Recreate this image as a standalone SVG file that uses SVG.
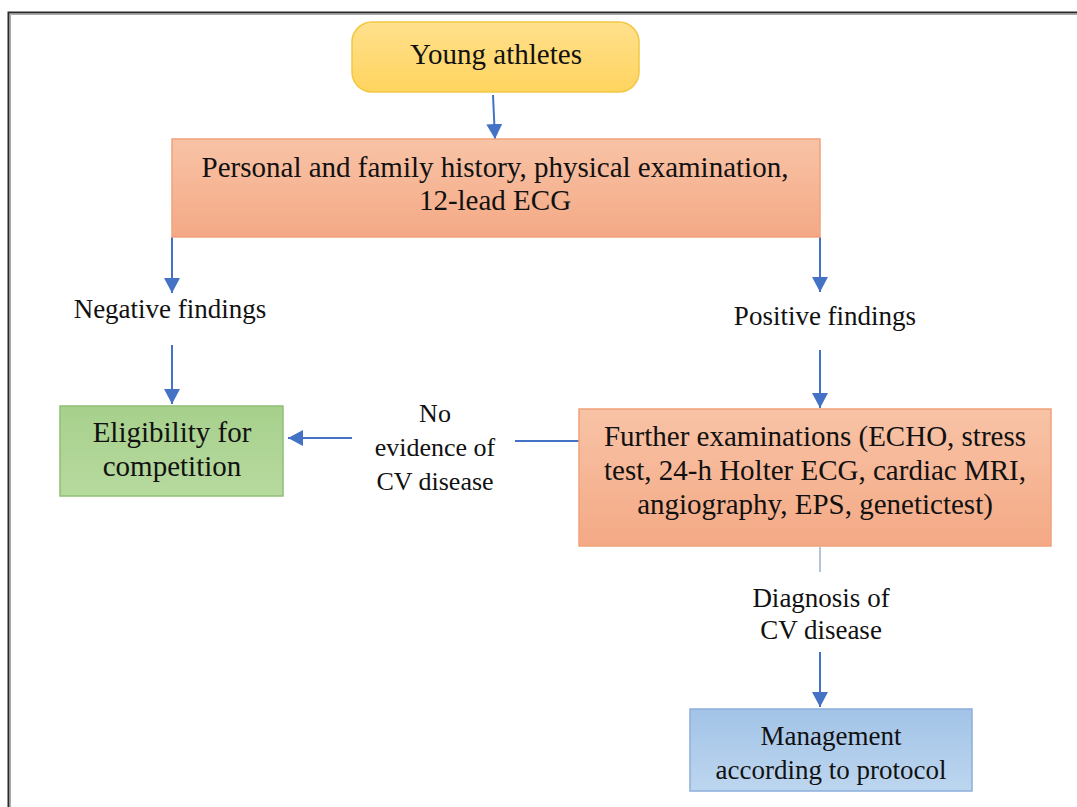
<svg xmlns="http://www.w3.org/2000/svg" width="1077" height="807" viewBox="0 0 1077 807">
<style>
.t{font-family:"Liberation Serif","Times New Roman",serif;fill:#111;text-anchor:middle}
.s29{font-size:29px}
.s27{font-size:27px}
.s26{font-size:26px}
.ln{stroke:#4472C4;stroke-width:2;fill:none}
</style>
<defs>
<linearGradient id="gY" x1="0" y1="0" x2="0" y2="1"><stop offset="0" stop-color="#FFE08C"/><stop offset="1" stop-color="#FFD45F"/></linearGradient>
<linearGradient id="gO" x1="0" y1="0" x2="0" y2="1"><stop offset="0" stop-color="#F8C3A6"/><stop offset="1" stop-color="#F4A985"/></linearGradient>
<linearGradient id="gG" x1="0" y1="0" x2="0" y2="1"><stop offset="0" stop-color="#A7D08C"/><stop offset="1" stop-color="#B7DA9F"/></linearGradient>
<linearGradient id="gB" x1="0" y1="0" x2="0" y2="1"><stop offset="0" stop-color="#A2C3E7"/><stop offset="1" stop-color="#BDD6EF"/></linearGradient>
<marker id="ah" markerUnits="userSpaceOnUse" markerWidth="16" markerHeight="16" refX="15" refY="8" orient="auto">
<path d="M0,0 L15,8 L0,16 Z" fill="#4472C4"/>
</marker>
</defs>
<rect width="1077" height="807" fill="#fff"/>
<g id="frame">
<path d="M8.5,807 V12.5 H1077" stroke="#2a2a2a" stroke-width="2" fill="none"/>
<path d="M10.5,807 V14.5 H1077" stroke="#aaa" stroke-width="1" fill="none"/>
</g>
<g id="connectors">
<path class="ln" d="M493,95 L495,139" marker-end="url(#ah)"/>
<path class="ln" d="M172,237 V293" marker-end="url(#ah)"/>
<path class="ln" d="M820,237 V292" marker-end="url(#ah)"/>
<path class="ln" d="M172,345 V404" marker-end="url(#ah)"/>
<path class="ln" d="M820,350 V408" marker-end="url(#ah)"/>
<path class="ln" d="M352,438 H288" marker-end="url(#ah)"/>
<path class="ln" d="M515,441 H579"/>
<path d="M820,547 V572" stroke="#9AAFCB" stroke-width="1.5" fill="none"/>
<path class="ln" d="M820,652 V707" marker-end="url(#ah)"/>
</g>
<g id="young">
<rect x="352" y="22" width="287" height="70" rx="20" fill="url(#gY)" stroke="#F2C744" stroke-width="1.5"/>
<text class="t s29" x="496" y="64">Young athletes</text>
</g>
<g id="history">
<rect x="172" y="139" width="648" height="98" fill="url(#gO)" stroke="#F1A27A" stroke-width="1.5"/>
<text class="t s29" x="495" y="177">Personal and family history, physical examination,</text>
<text class="t s29" x="495" y="210">12-lead ECG</text>
</g>
<g id="negative">
<text class="t s27" x="170" y="318">Negative findings</text>
</g>
<g id="positive">
<text class="t s27" x="825" y="325">Positive findings</text>
</g>
<g id="eligibility">
<rect x="60" y="406" width="223" height="90" fill="url(#gG)" stroke="#8FBF73" stroke-width="1.5"/>
<text class="t s29" x="172" y="442">Eligibility for</text>
<text class="t s29" x="172" y="476">competition</text>
</g>
<g id="noevidence">
<text class="t s26" x="435" y="422">No</text>
<text class="t s26" x="435" y="456">evidence of</text>
<text class="t s26" x="435" y="490">CV disease</text>
</g>
<g id="further">
<rect x="579" y="409" width="472" height="137" fill="url(#gO)" stroke="#F1A27A" stroke-width="1.5"/>
<text class="t s29" x="815" y="446">Further examinations (ECHO, stress</text>
<text class="t s29" x="815" y="480">test, 24-h Holter ECG, cardiac MRI,</text>
<text class="t s29" x="815" y="514">angiography, EPS, genetictest)</text>
</g>
<g id="diagnosis">
<text class="t s27" x="821" y="607">Diagnosis of</text>
<text class="t s27" x="821" y="639">CV disease</text>
</g>
<g id="management">
<rect x="690" y="709" width="282" height="82" fill="url(#gB)" stroke="#8DAEDA" stroke-width="1.5"/>
<text class="t s27" x="831" y="745">Management</text>
<text class="t s27" x="831" y="779">according to protocol</text>
</g>
</svg>
